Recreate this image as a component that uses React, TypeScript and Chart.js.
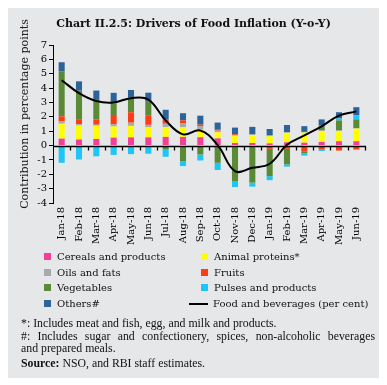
import React, { useEffect, useRef } from 'react';
import { Chart, registerables } from 'chart.js';

Chart.register(...registerables);

const labels = ['Jan-18', 'Feb-18', 'Mar-18', 'Apr-18', 'May-18', 'Jun-18', 'Jul-18', 'Aug-18', 'Sep-18', 'Oct-18', 'Nov-18', 'Dec-18', 'Jan-19', 'Feb-19', 'Mar-19', 'Apr-19', 'May-19', 'Jun-19'];

const cereals = [0.48, 0.42, 0.46, 0.55, 0.57, 0.57, 0.6, 0.6, 0.58, 0.5, 0.18, 0.18, 0.15, 0.23, 0.2, 0.25, 0.3, 0.3];
const animal = [1.04, 0.97, 0.92, 0.78, 0.8, 0.7, 0.69, 0.67, 0.53, 0.42, 0.5, 0.55, 0.5, 0.65, 0.7, 0.75, 0.7, 0.88];
const oils = [0.16, 0.1, 0.07, 0.15, 0.22, 0.17, 0.23, 0.3, 0.23, 0.12, 0.05, 0.07, 0.05, 0.05, 0.05, 0.05, 0.05, 0.02];
const fruits = [0.35, 0.3, 0.37, 0.65, 0.73, 0.63, 0.32, 0.18, 0.12, 0.06, 0.05, 0, -0.23, -0.23, -0.4, -0.28, -0.35, -0.28];
const vegetables = [3.12, 2.03, 1.36, 0.8, 1.0, 0.99, -0.28, -1.08, -0.62, -1.2, -2.47, -2.58, -1.9, -1.08, -0.15, 0.37, 0.7, 0.62];
const pulses = [-1.2, -0.97, -0.75, -0.65, -0.6, -0.57, -0.5, -0.35, -0.42, -0.5, -0.42, -0.28, -0.28, -0.16, -0.15, -0.1, 0.15, 0.3];
const others = [0.65, 0.65, 0.65, 0.74, 0.55, 0.62, 0.65, 0.5, 0.62, 0.5, 0.47, 0.5, 0.45, 0.5, 0.4, 0.4, 0.42, 0.55];
const foodBeverages = [4.55, 3.65, 3.1, 3.0, 3.3, 3.2, 1.75, 0.78, 1.05, 0.03, -1.78, -1.55, -1.27, 0.05, 0.7, 1.34, 2.08, 2.38];

const yTitle = 'Contribution in percentage points';
const chartTitle = 'Chart II.2.5: Drivers of Food Inflation (Y-o-Y)';

const COLORS = {
  cereals: '#f2409a',
  animal: '#ffff00',
  oils: '#a7a9ac',
  fruits: '#ff3d14',
  vegetables: '#5a8a36',
  pulses: '#1dc6f4',
  others: '#2c6399',
};

const SERIF = '"DejaVu Serif", serif';

export default function App() {
  const ref = useRef<HTMLCanvasElement>(null);

  useEffect(() => {
    if (!ref.current) return;
    const zeroLine = {
      id: 'zeroLine',
      beforeDatasetDraw(chart: any, args: any) {
        if (args.meta.type !== 'line') return;
        const { ctx, chartArea, scales } = chart;
        const y0 = Math.round(scales.y.getPixelForValue(0)) + 0.5;
        ctx.save();
        ctx.strokeStyle = '#000';
        ctx.lineWidth = 1.3;
        ctx.beginPath();
        ctx.moveTo(chartArea.left, y0);
        ctx.lineTo(chartArea.right + 1, y0);
        const n = labels.length;
        for (let i = 1; i <= n; i++) {
          const xp = Math.round(chartArea.left + ((chartArea.right - chartArea.left) * i) / n) + 0.5;
          ctx.moveTo(xp, y0);
          ctx.lineTo(xp, y0 + 4);
        }
        ctx.stroke();
        ctx.restore();
      },
    };

    const bar = (label: string, data: number[], color: string) => ({
      type: 'bar' as const,
      label,
      data,
      backgroundColor: color,
      borderWidth: 0,
      barPercentage: 0.35,
      categoryPercentage: 1,
      order: 1,
    });

    const chart = new Chart(ref.current, {
      type: 'bar',
      data: {
        labels,
        datasets: [
          {
            type: 'line',
            label: 'Food and beverages (per cent)',
            data: foodBeverages,
            borderColor: '#000',
            borderWidth: 2,
            pointRadius: 0,
            tension: 0.4,
            fill: false,
            order: 0,
            stack: 'line',
          } as any,
          bar('Cereals and products', cereals, COLORS.cereals),
          bar('Animal proteins*', animal, COLORS.animal),
          bar('Oils and fats', oils, COLORS.oils),
          bar('Fruits', fruits, COLORS.fruits),
          bar('Vegetables', vegetables, COLORS.vegetables),
          bar('Pulses and products', pulses, COLORS.pulses),
          bar('Others#', others, COLORS.others),
        ],
      },
      options: {
        responsive: false,
        animation: false,
        layout: { padding: { top: 37, right: 14, left: 0, bottom: 0 } },
        plugins: {
          legend: { display: false },
          tooltip: { enabled: false },
          title: { display: false },
        },
        scales: {
          x: {
            stacked: true,
            grid: { display: false, drawTicks: false },
            border: { display: false },
            ticks: {
              color: '#000',
              font: { family: SERIF, size: 10 },
              maxRotation: 90,
              minRotation: 90,
              autoSkip: false,
              padding: 4,
            },
            afterFit: (s: any) => {
              s.height = 50;
            },
          },
          y: {
            stacked: true,
            min: -4,
            max: 7,
            ticks: {
              stepSize: 1,
              autoSkip: false,
              color: '#000',
              font: { family: SERIF, size: 10 },
              padding: 2,
            },
            grid: { drawOnChartArea: false, tickLength: 4, color: '#000', tickColor: '#000' },
            border: { display: true, color: '#000', width: 1 },
            afterFit: (s: any) => {
              s.width = 45;
            },
          },
        },
      },
      plugins: [zeroLine],
    });
    return () => chart.destroy();
  }, []);

  const legendRow = (top: number) => ({ position: 'absolute' as const, top, height: 14, lineHeight: '14px', fontFamily: SERIF, fontSize: 10, color: '#111', whiteSpace: 'nowrap' as const });
  const swatch = (color: string) => (
    <span style={{ display: 'inline-block', width: 7, height: 7, background: color, marginRight: 6, verticalAlign: 'middle', position: 'relative', top: -1 }} />
  );

  const leftItems: [string, string][] = [
    ['Cereals and products', COLORS.cereals],
    ['Oils and fats', COLORS.oils],
    ['Vegetables', COLORS.vegetables],
    ['Others#', COLORS.others],
  ];
  const rightItems: [string, string][] = [
    ['Animal proteins*', COLORS.animal],
    ['Fruits', COLORS.fruits],
    ['Pulses and products', COLORS.pulses],
  ];
  const rowTops = [242, 258, 273, 289];

  const noteStyle = { position: 'absolute' as const, left: 13, fontFamily: '"Liberation Serif", serif', fontSize: 11.8, lineHeight: '12px', color: '#111', whiteSpace: 'nowrap' as const };

  return (
    <div style={{ position: 'relative', width: 371, height: 370, background: '#e6e7e8' }}>
      <canvas ref={ref} width={371} height={245} style={{ position: 'absolute', left: 0, top: 0 }} />
      <div style={{ position: 'absolute', left: 0, width: 371, top: 9, textAlign: 'center', fontFamily: SERIF, fontWeight: 'bold', fontSize: 11, lineHeight: '14px', color: '#111', whiteSpace: 'nowrap' }}>
        {chartTitle}
      </div>
      <div style={{ position: 'absolute', left: 17, top: 106, width: 0, height: 0 }}>
        <div style={{ position: 'absolute', left: -120, top: -7, width: 240, height: 14, lineHeight: '14px', textAlign: 'center', transform: 'rotate(-90deg)', fontFamily: SERIF, fontSize: 11, color: '#111', whiteSpace: 'nowrap' }}>
          {yTitle}
        </div>
      </div>
      {leftItems.map(([t, c], i) => (
        <div key={t} style={{ ...legendRow(rowTops[i]), left: 36 }}>
          {swatch(c)}
          {t}
        </div>
      ))}
      {rightItems.map(([t, c], i) => (
        <div key={t} style={{ ...legendRow(rowTops[i]), left: 193 }}>
          {swatch(c)}
          {t}
        </div>
      ))}
      <div style={{ ...legendRow(rowTops[3]), left: 181 }}>
        <span style={{ display: 'inline-block', width: 19, height: 2, background: '#000', marginRight: 5, verticalAlign: 'middle', position: 'relative', top: -1 }} />
        Food and beverages (per cent)
      </div>
      <div style={{ ...noteStyle, top: 309 }}>*: Includes meat and fish, egg, and milk and products.</div>
      <div style={{ ...noteStyle, top: 322, width: 354, whiteSpace: 'normal', textAlign: 'justify', textAlignLast: 'justify' as any }}>#: Includes sugar and confectionery, spices, non-alcoholic beverages</div>
      <div style={{ ...noteStyle, top: 334 }}>and prepared meals.</div>
      <div style={{ ...noteStyle, top: 349 }}>
        <b>Source:</b> NSO, and RBI staff estimates.
      </div>
    </div>
  );
}
